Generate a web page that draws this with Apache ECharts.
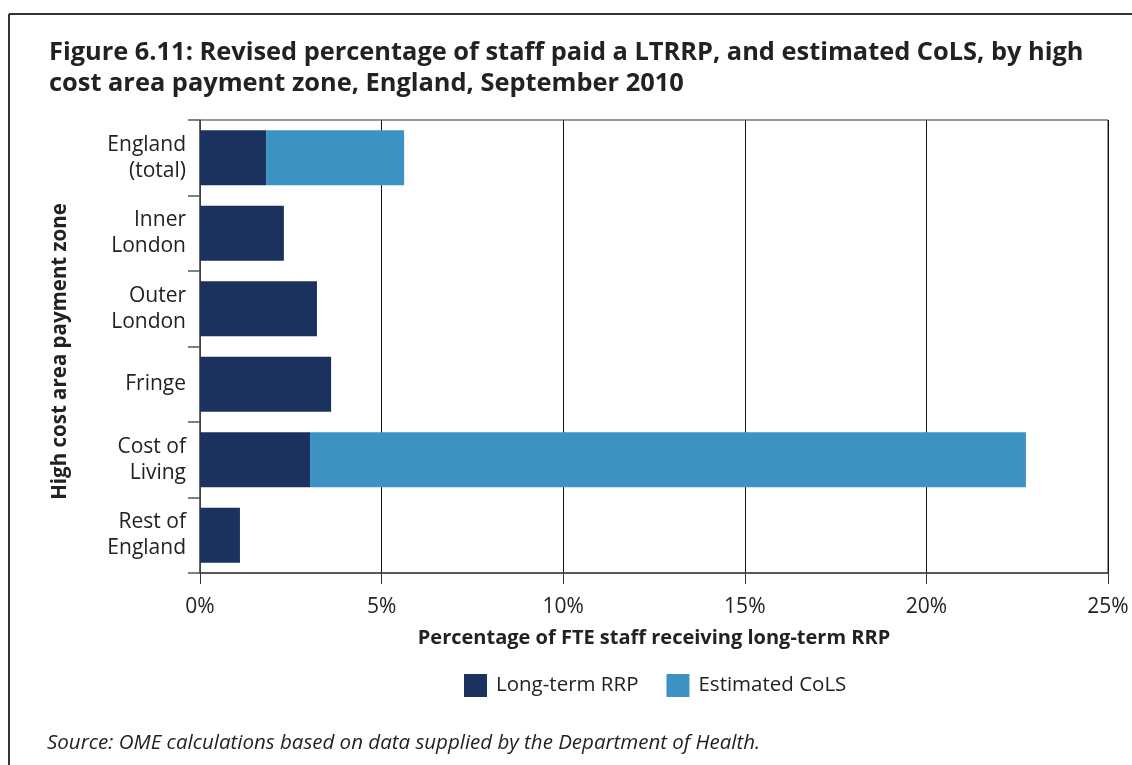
<!DOCTYPE html>
<html><head><meta charset="utf-8">
<script src="https://cdn.jsdelivr.net/npm/echarts@6/dist/echarts.min.js"></script>
<style>html,body{margin:0;padding:0;background:#fff}#c{width:1132px;height:765px}</style>
</head><body><div id="c"></div>
<script>
const categories = ['England\n(total)', 'Inner\nLondon', 'Outer\nLondon', 'Fringe', 'Cost of\nLiving', 'Rest of\nEngland'];
const longTermRRP = [1.82, 2.31, 3.22, 3.61, 3.03, 1.10];
const estimatedCoLS = [3.80, null, null, null, 19.71, null];
const xTicks = [0, 5, 10, 15, 20, 25];
const seriesNames = ['Long-term RRP', 'Estimated CoLS'];

const FONT = 'Open Sans';
const chart = echarts.init(document.getElementById('c'));
chart.setOption({
  animation: false,
  textStyle: { fontFamily: FONT, color: '#222' },
  title: {
    text: 'Figure 6.11: Revised percentage of staff paid a LTRRP, and estimated CoLS, by high\ncost area payment zone, England, September 2010',
    left: 44, top: 32,
    textStyle: { fontFamily: FONT, fontWeight: 'bold', fontSize: 25.4, lineHeight: 31, color: '#222' }
  },
  grid: { left: 200, right: 24, top: 120, bottom: 192, show: true, borderColor: '#333', borderWidth: 1 },
  legend: {
    data: seriesNames, top: 669, left: 459, itemWidth: 23, itemHeight: 23, itemGap: 28,
    icon: 'rect',
    textStyle: { fontFamily: FONT, fontSize: 20.5, color: '#222', padding: [0,0,0,4] }
  },
  xAxis: {
    type: 'value', min: xTicks[0], max: xTicks[xTicks.length-1], interval: 5,
    name: 'Percentage of FTE staff receiving long-term RRP',
    nameLocation: 'middle', nameGap: 55,
    nameTextStyle: { fontFamily: FONT, fontWeight: 'bold', fontSize: 20, color: '#222' },
    axisLine: { show: true, lineStyle: { color: '#444', width: 1.5 } },
    axisTick: { show: true, length: 11, lineStyle: { color: '#333' } },
    axisLabel: { formatter: v => v + '%', fontSize: 21, margin: 24, color: '#222' },
    splitLine: { show: true, lineStyle: { color: '#111', width: 1 } }
  },
  yAxis: {
    type: 'category', data: categories, inverse: true,
    name: 'High cost area payment zone', nameLocation: 'middle', nameGap: 129,
    nameTextStyle: { fontFamily: FONT, fontWeight: 'bold', fontSize: 20.5, color: '#222', padding: [0, 10, 0, 0] },
    axisLine: { show: true, lineStyle: { color: '#555', width: 1.5 } },
    axisTick: { show: true, length: 12, lineStyle: { color: '#555', width: 1.5 } },
    axisLabel: { fontSize: 21, lineHeight: 26, margin: 14, color: '#222', align: 'right', padding: [6, 0, 0, 0] }
  },
  series: [
    { name: seriesNames[0], type: 'bar', stack: 'a', data: longTermRRP, barWidth: 55, itemStyle: { color: '#1b315e' } },
    { name: seriesNames[1], type: 'bar', stack: 'a', data: estimatedCoLS, barWidth: 55, itemStyle: { color: '#3d92c4' } }
  ],
  graphic: [
    { type: 'line', shape: { x1: 9, y1: 14, x2: 1132, y2: 14 }, style: { stroke: '#333', lineWidth: 2 } },
    { type: 'line', shape: { x1: 9, y1: 14, x2: 9, y2: 765 }, style: { stroke: '#333', lineWidth: 2 } },
    { type: 'text', left: 47, top: 733, style: { text: 'Source: OME calculations based on data supplied by the Department of Health.', fontFamily: FONT, fontStyle: 'italic', fontSize: 20.5, fill: '#222' } }
  ]
});
</script></body></html>
